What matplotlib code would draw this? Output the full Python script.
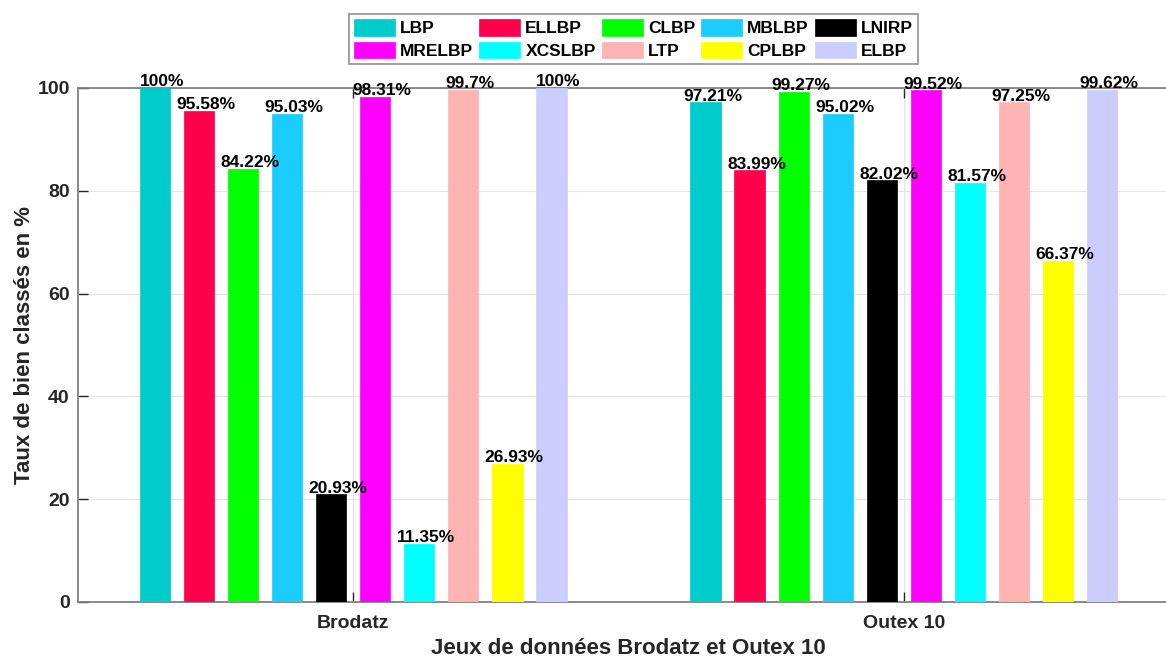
import numpy as np
import matplotlib
matplotlib.use("Agg")
import matplotlib.pyplot as plt

plt.rcParams['font.family'] = ['Liberation Sans', 'DejaVu Sans']

groups = ['Brodatz', 'Outex 10']
methods = ['LBP', 'ELLBP', 'CLBP', 'MBLBP', 'LNIRP',
           'MRELBP', 'XCSLBP', 'LTP', 'CPLBP', 'ELBP']
brodatz = [100, 95.58, 84.22, 95.03, 20.93, 98.31, 11.35, 99.7, 26.93, 100]
outex = [97.21, 83.99, 99.27, 95.02, 82.02, 99.52, 81.57, 97.25, 66.37, 99.62]
colors = ['#00CCCC', '#FF004D', '#00FF00', '#1ACCFF', '#000000',
          '#FF00FF', '#00FFFF', '#FFB3B3', '#FFFF00', '#CCCCFF']

values = np.array([brodatz, outex])

fig = plt.figure(figsize=(11.66, 6.61), dpi=100)
ax = fig.add_axes([78/1166, 1 - 602/661, (1179 - 78)/1166, (602 - 88)/661])

x = np.arange(1, len(groups) + 1)
n = len(methods)
step = 0.08
width = 0.055
handles = []
for i, (m, c) in enumerate(zip(methods, colors)):
    pos = x + (i - (n - 1) / 2) * step
    b = ax.bar(pos, values[:, i], width, color=c, edgecolor=c,
               linewidth=0.5, label=m, zorder=3)
    handles.append(b)
    for xp, v in zip(pos, values[:, i]):
        ax.annotate('%g%%' % v, (xp, v), xytext=(5, -1),
                    textcoords='offset points', ha='center', va='bottom',
                    fontsize=12.5, fontweight='bold', color='black',
                    annotation_clip=False, zorder=4)

ax.set_xlim(0.5, 2.5)
ax.set_ylim(0, 100)
ax.set_xticks(x)
ax.set_xticklabels(groups)
ax.set_yticks(np.arange(0, 101, 20))
ax.grid(color='#E3E3E3', linewidth=0.8, zorder=0)
ax.set_axisbelow(True)

for s in ax.spines.values():
    s.set_color('#808080')
    s.set_linewidth(1.3)
ax.tick_params(direction='in', length=7, width=1, color='#262626',
               top=True, right=True, labelcolor='#262626')
ax.tick_params(axis='y', labelsize=14, pad=6)
ax.tick_params(axis='x', labelsize=14, pad=9)
for lbl in ax.get_yticklabels() + ax.get_xticklabels():
    lbl.set_fontweight('bold')

ax.set_ylabel('Taux de bien classés en %', fontsize=16, fontweight='bold',
              color='#262626', labelpad=2)
ax.set_xlabel('Jeux de données Brodatz et Outex 10', fontsize=16,
              fontweight='bold', color='#262626', labelpad=5)

order = [0, 5, 1, 6, 2, 7, 3, 8, 4, 9]
leg = fig.legend([handles[k] for k in order], [methods[k] for k in order],
                 ncol=5, loc='center', bbox_to_anchor=(633.5/1166, 1 - 39/661),
                 fancybox=False, edgecolor='#808080',
                 handlelength=2.35, handleheight=1.05, handletextpad=0.3,
                 columnspacing=0.35, labelspacing=0.3, borderpad=0.3,
                 borderaxespad=0, prop={'weight': 'bold', 'size': 12.5})
leg.get_frame().set_linewidth(1.3)

fig.savefig('out.png', dpi=100)
